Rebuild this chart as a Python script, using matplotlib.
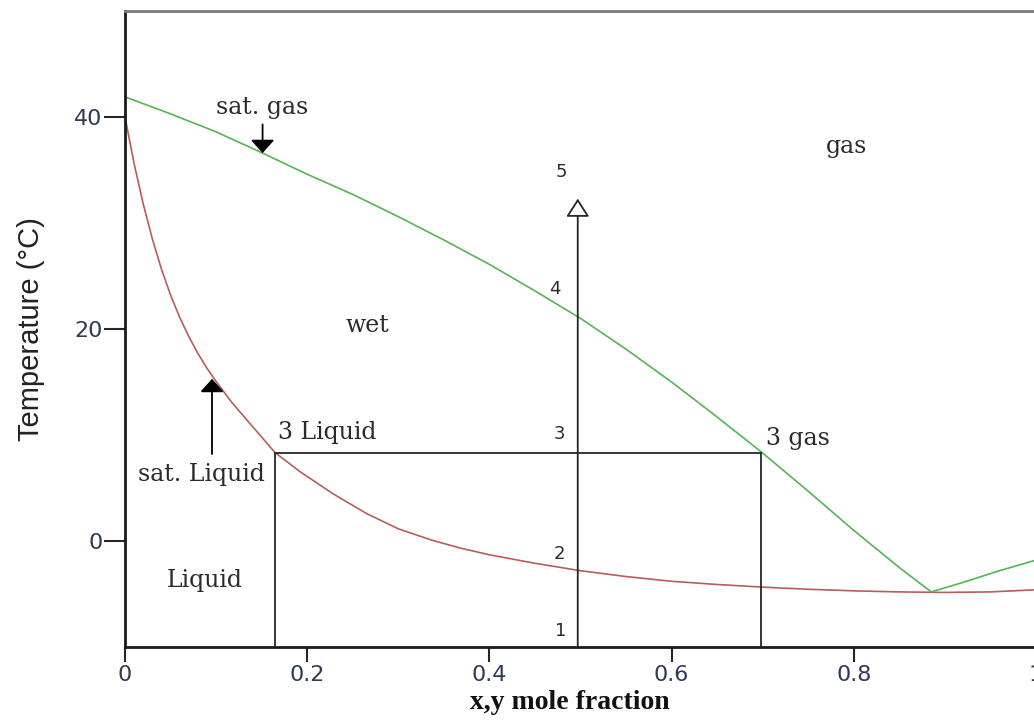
import matplotlib
matplotlib.use('Agg')
import matplotlib.pyplot as plt

# saturated liquid (bubble) curve
x_liq = [0, 0.01, 0.02, 0.03, 0.04, 0.05, 0.06, 0.07, 0.08, 0.09, 0.10, 0.117, 0.137, 0.1646,
         0.192, 0.2285, 0.265, 0.30, 0.338, 0.3675, 0.40, 0.45, 0.50, 0.55, 0.60, 0.65, 0.70,
         0.75, 0.80, 0.85, 0.90, 0.95, 1.0]
T_liq = [40, 35.6, 31.8, 28.5, 25.65, 23.2, 21.1, 19.3, 17.7, 16.3, 15.05, 13.1, 11.1, 8.35,
         6.55, 4.45, 2.6, 1.15, 0.05, -0.65, -1.3, -2.1, -2.8, -3.35, -3.8, -4.1, -4.35,
         -4.55, -4.7, -4.8, -4.85, -4.8, -4.6]

# saturated gas (dew) curve
x_gas = [0, 0.05, 0.10, 0.151, 0.20, 0.25, 0.30, 0.35, 0.40, 0.45, 0.50, 0.55, 0.60, 0.65,
         0.70, 0.75, 0.80, 0.85, 0.885, 0.92, 0.96, 1.0]
T_gas = [41.9, 40.3, 38.6, 36.6, 34.6, 32.7, 30.6, 28.4, 26.1, 23.6, 21.0, 18.1, 15.0, 11.7,
         8.3, 4.7, 1.0, -2.5, -4.8, -3.9, -2.8, -1.8]

# process path
x_feed = 0.497
x_l3, x_g3, T3 = 0.1646, 0.6985, 8.35
T_top = 32.3

xticks = [0, 0.2, 0.4, 0.6, 0.8, 1.0]
xticklabels = ['0', '0.2', '0.4', '0.6', '0.8', '1']
yticks = [0, 20, 40]

fig = plt.figure(figsize=(10.34, 7.21), dpi=100)
ax = fig.add_axes([0.1209, 0.1026, 0.881, 0.8821])

ax.plot(x_liq, T_liq, color='#b85c5c', lw=1.2)
ax.plot(x_gas, T_gas, color='#55b455', lw=1.2)

line_c = '#262626'
ax.plot([x_l3, x_g3], [T3, T3], color=line_c, lw=1.3)
ax.plot([x_l3, x_l3], [-10, T3], color=line_c, lw=1.3)
ax.plot([x_g3, x_g3], [-10, T3], color=line_c, lw=1.3)

# upward arrow with open head
ax.annotate('', xy=(x_feed, T_top), xytext=(x_feed, -10),
            arrowprops=dict(arrowstyle='-|>,head_length=0.7,head_width=0.45', fc='white',
                            ec=line_c, lw=1.3, shrinkA=0, shrinkB=0, mutation_scale=16))

# sat. gas arrow
ax.annotate('', xy=(0.151, 36.6), xytext=(0.151, 39.3),
            arrowprops=dict(arrowstyle='-|>,head_length=0.5,head_width=0.45', fc='black',
                            ec='black', lw=1.3, shrinkA=0, shrinkB=0, mutation_scale=16))
# sat. liquid arrow
ax.annotate('', xy=(0.0955, 15.3), xytext=(0.0955, 8.2),
            arrowprops=dict(arrowstyle='-|>,head_length=0.5,head_width=0.45', fc='black',
                            ec='black', lw=1.3, shrinkA=0, shrinkB=0, mutation_scale=16))

serif = dict(family='DejaVu Serif', fontsize=17, color='#2a2a2a')
ax.text(0.1503, 40.9, 'sat. gas', ha='center', va='center', **serif)
ax.text(0.792, 37.2, 'gas', ha='center', va='center', **serif)
ax.text(0.2666, 20.3, 'wet', ha='center', va='center', **serif)
ax.text(0.168, 10.2, '3 Liquid', ha='left', va='center', **serif)
ax.text(0.704, 9.7, '3 gas', ha='left', va='center', **serif)
ax.text(0.0834, 6.3, 'sat. Liquid', ha='center', va='center', **serif)
ax.text(0.0878, -3.7, 'Liquid', ha='center', va='center', **serif)

pts = dict(family='DejaVu Sans', fontsize=13, color='#2a2a2a', ha='center', va='center')
ax.text(0.4794, 34.8, '5', **pts)
ax.text(0.4718, 23.8, '4', **pts)
ax.text(0.4772, 10.1, '3', **pts)
ax.text(0.4772, -1.2, '2', **pts)
ax.text(0.478, -8.5, '1', **pts)

ax.set_xlim(0, 1)
ax.set_ylim(-10, 50)
ax.set_xticks(xticks)
ax.set_xticklabels(xticklabels)
ax.set_yticks(yticks)

tick_c = '#2d3a56'
ax.tick_params(axis='x', length=11, width=1.5, pad=2, labelsize=16, labelcolor=tick_c, color='#262626')
ax.tick_params(axis='y', length=15, width=1.5, pad=1, labelsize=16, labelcolor=tick_c, color='#262626')

for s in ['left', 'bottom']:
    ax.spines[s].set_linewidth(2)
    ax.spines[s].set_color('#1a1a1a')
ax.spines['top'].set_linewidth(2)
ax.spines['top'].set_color('#7a7a7a')
ax.spines['right'].set_visible(False)

ax.set_xlabel('x,y mole fraction', family='Liberation Serif', fontweight='bold', fontsize=20,
              color='#111111')
ax.xaxis.set_label_coords(0.488, -0.068)
ax.set_ylabel('Temperature (°C)', family='Liberation Sans', fontsize=21, color='#222222')
ax.yaxis.set_label_coords(-0.088, 0.5)

fig.savefig('out.png', dpi=100)
